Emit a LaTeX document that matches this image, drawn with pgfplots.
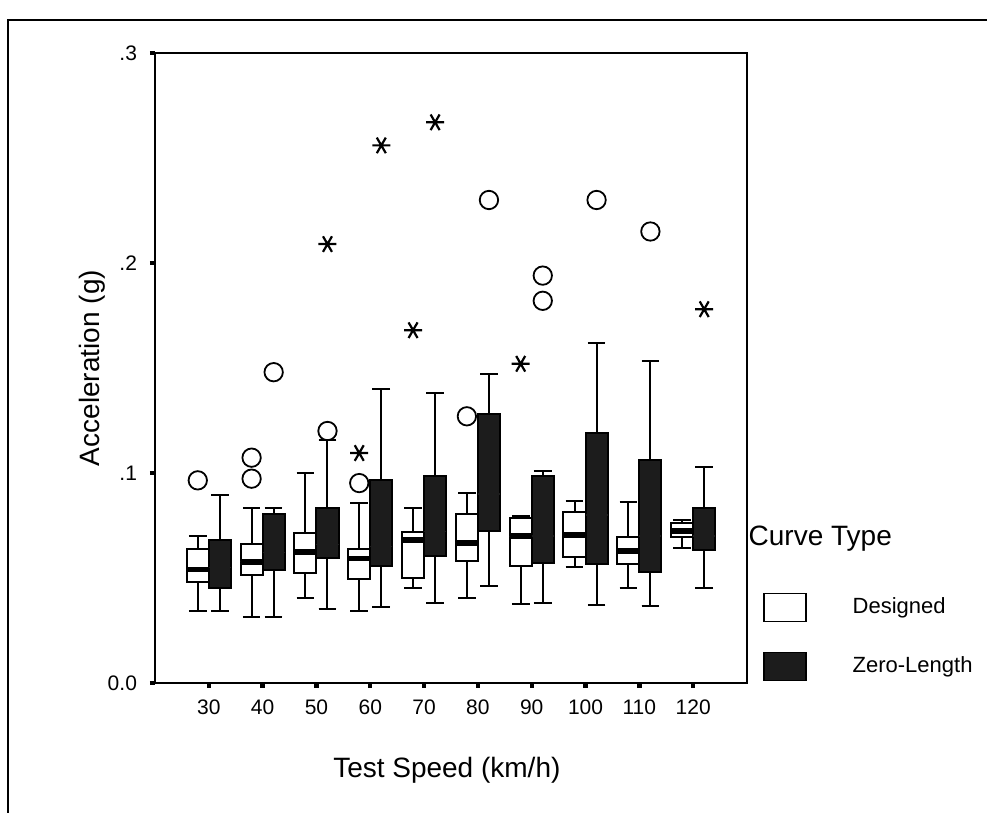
\documentclass[border=0pt]{standalone}
\usepackage{pgfplots}
\pgfplotsset{compat=1.18}
\usepgfplotslibrary{statistics}
\usepackage{fontspec}
\setmainfont{Liberation Sans}

\colorlet{zl}{black!89}
\pgfplotsset{
  wbox/.style={black, line width=1pt, fill=white,
    boxplot/draw direction=y,
    boxplot/box extend=0.41,
    boxplot/every median/.style={line width=2.8pt}},
  dbox/.style={black, line width=1pt, fill=zl,
    boxplot/draw direction=y,
    boxplot/box extend=0.41,
    boxplot/every median/.style={draw=zl, line width=0.6pt}},
}

\begin{document}
\begin{tikzpicture}
\begin{axis}[
  at={(0,0)}, anchor=south west,
  scale only axis, width=296pt, height=315pt,
  xmin=-1, xmax=10, ymin=0, ymax=0.3,
  xtick={0,...,9},
  xticklabels={30,40,50,60,70,80,90,100,110,120},
  ytick={0,0.1,0.2,0.3},
  yticklabels={0.0,.1,.2,.3},
  tick pos=left, tick align=outside,
  major tick length=2.5pt,
  tick style={line width=2.2pt, black},
  axis line style={line width=0.9pt},
  tick label style={font=\fontsize{10.5}{12}\selectfont},
  xticklabel style={yshift=-2.5pt},
  yticklabel style={xshift=-3pt},
  label style={font=\fontsize{14}{16}\selectfont},
  xlabel={Test Speed (km/h)},
  ylabel={Acceleration (g)},
  xlabel style={at={(axis description cs:0.493,-0.138)}, anchor=center},
  ylabel style={at={(axis description cs:-0.106,0.5)}, anchor=center},
  legend style={draw=none, fill=none,
    at={(axis description cs:1.017,0.262)}, anchor=north west,
    font=\fontsize{11}{13}\selectfont, row sep=15pt,
    /tikz/every odd column/.append style={column sep=21pt}},
  legend cell align=left,
]
\addlegendimage{legend image code/.code={\path[draw=none] (0pt,-12.5pt) -- (0pt,4pt);}}
\addlegendentry{\hspace{-52pt}\fontsize{14}{16}\selectfont Curve Type}
\addlegendimage{legend image code/.code={\draw[black,line width=0.6pt,fill=white] (0pt,-7pt) rectangle (21pt,7pt);}}
\addlegendentry{Designed}
\addlegendimage{legend image code/.code={\draw[black,line width=0.6pt,fill=zl] (0pt,-7pt) rectangle (21pt,7pt);}}
\addlegendentry{Zero-Length}

% Designed (white boxes)
\addplot[wbox, boxplot prepared={draw position=-0.205, lower whisker=0.0344, lower quartile=0.048, median=0.054, upper quartile=0.064, upper whisker=0.0699}] coordinates {};
\addplot[wbox, boxplot prepared={draw position=0.795, lower whisker=0.0315, lower quartile=0.0512, median=0.0577, upper quartile=0.0661, upper whisker=0.0834}] coordinates {};
\addplot[wbox, boxplot prepared={draw position=1.795, lower whisker=0.0406, lower quartile=0.0522, median=0.0624, upper quartile=0.0712, upper whisker=0.1002}] coordinates {};
\addplot[wbox, boxplot prepared={draw position=2.795, lower whisker=0.0344, lower quartile=0.0493, median=0.0593, upper quartile=0.064, upper whisker=0.0855}] coordinates {};
\addplot[wbox, boxplot prepared={draw position=3.795, lower whisker=0.0453, lower quartile=0.050, median=0.068, upper quartile=0.0719, upper whisker=0.0834}] coordinates {};
\addplot[wbox, boxplot prepared={draw position=4.795, lower whisker=0.0406, lower quartile=0.058, median=0.0667, upper quartile=0.0807, upper whisker=0.0905}] coordinates {};
\addplot[wbox, boxplot prepared={draw position=5.795, lower whisker=0.0374, lower quartile=0.0558, median=0.0699, upper quartile=0.0786, upper whisker=0.0796}] coordinates {};
\addplot[wbox, boxplot prepared={draw position=6.795, lower whisker=0.055, lower quartile=0.0598, median=0.0704, upper quartile=0.0815, upper whisker=0.0865}] coordinates {};
\addplot[wbox, boxplot prepared={draw position=7.795, lower whisker=0.045, lower quartile=0.0569, median=0.0629, upper quartile=0.0696, upper whisker=0.0862}] coordinates {};
\addplot[wbox, boxplot prepared={draw position=8.795, lower whisker=0.0645, lower quartile=0.0696, median=0.0724, upper quartile=0.0762, upper whisker=0.0775}] coordinates {};

% Zero-Length (dark boxes)
\addplot[dbox, boxplot prepared={draw position=0.205, lower whisker=0.0344, lower quartile=0.0453, median=0.055, upper quartile=0.068, upper whisker=0.0894}] coordinates {};
\addplot[dbox, boxplot prepared={draw position=1.205, lower whisker=0.0315, lower quartile=0.0537, median=0.062, upper quartile=0.0807, upper whisker=0.0834}] coordinates {};
\addplot[dbox, boxplot prepared={draw position=2.205, lower whisker=0.0353, lower quartile=0.0596, median=0.066, upper quartile=0.0835, upper whisker=0.1156}] coordinates {};
\addplot[dbox, boxplot prepared={draw position=3.205, lower whisker=0.0363, lower quartile=0.0556, median=0.065, upper quartile=0.0965, upper whisker=0.1398}] coordinates {};
\addplot[dbox, boxplot prepared={draw position=4.205, lower whisker=0.0383, lower quartile=0.0605, median=0.072, upper quartile=0.0984, upper whisker=0.1382}] coordinates {};
\addplot[dbox, boxplot prepared={draw position=5.205, lower whisker=0.0463, lower quartile=0.0723, median=0.090, upper quartile=0.128, upper whisker=0.1473}] coordinates {};
\addplot[dbox, boxplot prepared={draw position=6.205, lower whisker=0.0383, lower quartile=0.0572, median=0.070, upper quartile=0.0984, upper whisker=0.101}] coordinates {};
\addplot[dbox, boxplot prepared={draw position=7.205, lower whisker=0.0371, lower quartile=0.0569, median=0.080, upper quartile=0.119, upper whisker=0.162}] coordinates {};
\addplot[dbox, boxplot prepared={draw position=8.205, lower whisker=0.0368, lower quartile=0.0529, median=0.070, upper quartile=0.106, upper whisker=0.1531}] coordinates {};
\addplot[dbox, boxplot prepared={draw position=9.205, lower whisker=0.045, lower quartile=0.0632, median=0.070, upper quartile=0.0834, upper whisker=0.1029}] coordinates {};

% outliers (circles)
\addplot[only marks, black, mark=o, mark size=4.6pt, mark options={line width=0.9pt}] coordinates {
(-0.205,0.0965) (0.795,0.1073) (0.795,0.0973) (1.205,0.148) (2.205,0.120)
(2.795,0.0952) (4.795,0.127) (5.205,0.230) (6.205,0.194) (6.205,0.182)
(7.205,0.230) (8.205,0.215)
};
% extreme values (asterisks)
\addplot[only marks, black, mark=asterisk, mark size=4.5pt, mark options={line width=1.1pt, rotate=90}] coordinates {
(2.205,0.209) (2.795,0.1095) (3.205,0.256) (3.795,0.168) (4.205,0.267)
(5.795,0.152) (9.205,0.178)
};
\end{axis}
\draw[line width=0.8pt] (-73.5pt,-66pt) -- (-73.5pt,331.5pt) -- (417pt,331.5pt);
\pgfresetboundingbox
\path[use as bounding box] (-77.5pt,-65pt) rectangle (416pt,341.5pt);
\end{tikzpicture}
\end{document}
